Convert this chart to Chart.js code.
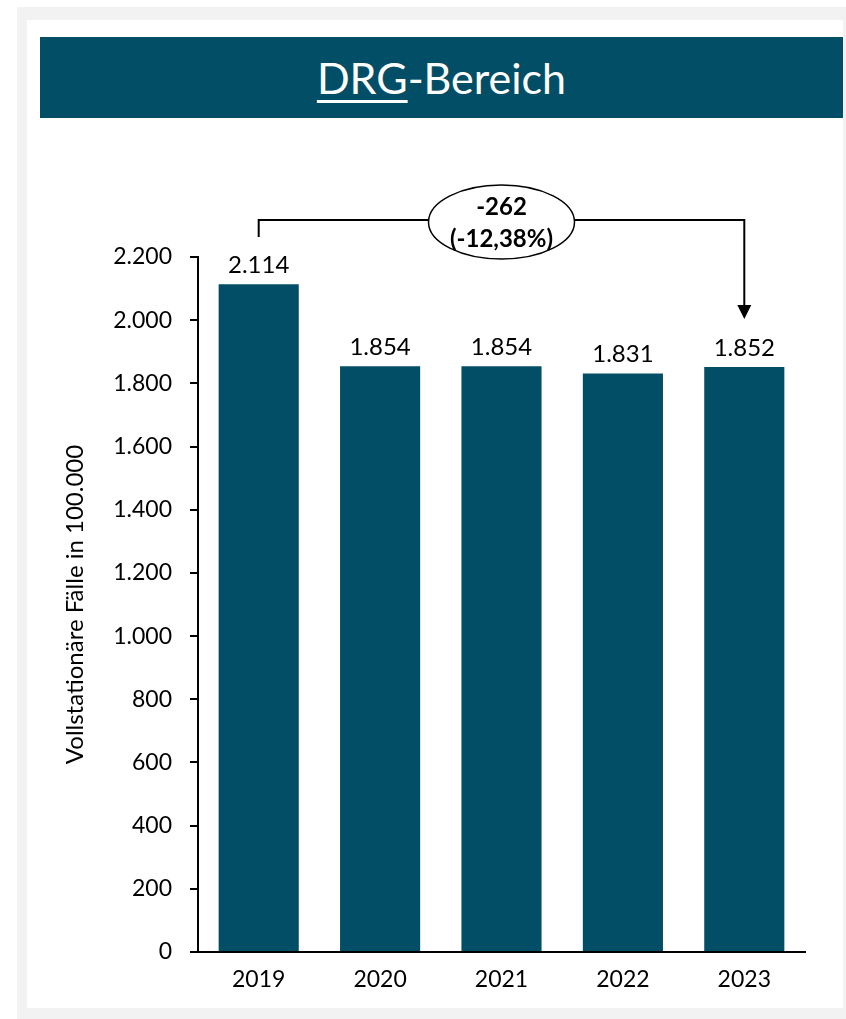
<!DOCTYPE html>
<html>
<head>
<meta charset="utf-8">
<script src="https://cdn.jsdelivr.net/npm/chart.js@4.4.0/dist/chart.umd.min.js"></script>
<style>
  body { margin: 0; background: #fff; font-family: Lato, "Noto Sans", sans-serif; }
  #frame { position: absolute; left: 17px; top: 7px; width: 829px; height: 1012px; background: #f2f2f2; }
  #panel { position: absolute; left: 27px; top: 20px; width: 816px; height: 988px; background: #fff; }
  #head { position: absolute; left: 40px; top: 37px; width: 803px; height: 81px; background: #024e66;
          color: #fff; font-size: 43px; text-align: center; line-height: 81px; }
  #head u { text-decoration-thickness: 3px; text-underline-offset: 6px; }
  #wrap { position: absolute; left: 27px; top: 130px; width: 816px; height: 880px; }
</style>
</head>
<body>
<div id="frame"></div>
<div id="panel"></div>
<div id="head"><u>DRG</u>-Bereich</div>
<div id="wrap"><canvas id="myChart"></canvas></div>
<script>
var years = ["2019", "2020", "2021", "2022", "2023"];
var cases = [2114, 1854, 1854, 1831, 1852];
var yTicks = [0, 200, 400, 600, 800, 1000, 1200, 1400, 1600, 1800, 2000, 2200];
var diffLabels = ["-262", "(-12,38%)"];
var axisTitle = "Vollstationäre Fälle in 100.000";

function fmt(v){
  return String(v).replace(/\B(?=(\d{3})+(?!\d))/g, ".");
}

// value labels above bars
var valueLabels = {
  id: "valueLabels",
  afterDatasetsDraw: function(chart){
    var ctx = chart.ctx;
    var meta = chart.getDatasetMeta(0);
    ctx.save();
    ctx.font = "24px Lato";
    ctx.fillStyle = "#000";
    ctx.textAlign = "center";
    ctx.textBaseline = "bottom";
    meta.data.forEach(function(bar, i){
      ctx.fillText(fmt(cases[i]), bar.x, bar.y - 7);
    });
    ctx.restore();
  }
};

// bracket + ellipse + arrow from first to last bar
var diffBracket = {
  id: "diffBracket",
  afterDraw: function(chart){
    var ctx = chart.ctx;
    var xs = chart.scales.x, ys = chart.scales.y;
    var x0 = xs.getPixelForValue(0);
    var x1 = xs.getPixelForValue(years.length - 1);
    var top = chart.chartArea.top - 37;
    var cx = (x0 + x1) / 2, cy = top + 2, rx = 73, ry = 37;
    var tipY = ys.getPixelForValue(cases[cases.length - 1]) - 48;
    ctx.save();
    ctx.strokeStyle = "#000";
    ctx.lineWidth = 2;
    ctx.beginPath();
    ctx.moveTo(x0, top + 17);
    ctx.lineTo(x0, top);
    ctx.lineTo(cx - rx, top);
    ctx.moveTo(cx + rx, top);
    ctx.lineTo(x1, top);
    ctx.lineTo(x1, tipY - 12);
    ctx.stroke();
    ctx.beginPath();
    ctx.moveTo(x1 - 7, tipY - 14);
    ctx.lineTo(x1 + 7, tipY - 14);
    ctx.lineTo(x1, tipY);
    ctx.closePath();
    ctx.fillStyle = "#000";
    ctx.fill();
    ctx.beginPath();
    ctx.ellipse(cx, cy, rx, ry, 0, 0, Math.PI * 2);
    ctx.fillStyle = "#fff";
    ctx.fill();
    ctx.lineWidth = 1.5;
    ctx.stroke();
    ctx.fillStyle = "#000";
    ctx.font = "bold 24px Lato";
    ctx.textAlign = "center";
    ctx.textBaseline = "middle";
    ctx.fillText(diffLabels[0], cx, cy - 15);
    ctx.fillText(diffLabels[1], cx, cy + 17);
    ctx.restore();
  }
};

var ctx = document.getElementById("myChart").getContext("2d");
var chart = new Chart(ctx, {
  type: "bar",
  data: {
    labels: years,
    datasets: [{
      data: cases,
      backgroundColor: "#024e66",
      barPercentage: 0.66,
      categoryPercentage: 1
    }]
  },
  options: {
    responsive: true,
    maintainAspectRatio: false,
    animation: false,
    layout: { padding: { top: 127, right: 38, bottom: 8, left: 0 } },
    plugins: { legend: { display: false }, tooltip: { enabled: false } },
    scales: {
      x: {
        grid: { display: true, drawOnChartArea: false, drawTicks: false },
        border: { display: true, color: "#000", width: 2 },
        ticks: { color: "#000", font: { family: "Lato", size: 23 }, padding: 14 },
        afterFit: function(s){ s.height = 50; }
      },
      y: {
        min: 0,
        max: 2200,
        afterBuildTicks: function(s){ s.ticks = yTicks.map(function(v){ return { value: v }; }); },
        grid: { display: true, drawOnChartArea: false, drawTicks: true, tickLength: 8, color: "#000", lineWidth: 2 },
        border: { display: true, color: "#000", width: 2 },
        ticks: {
          color: "#000", font: { family: "Lato", size: 23 }, padding: 18,
          callback: function(v){ return fmt(v); }
        },
        title: {
          display: true, text: axisTitle, color: "#000",
          font: { family: "Lato", size: 24 }, padding: { top: 34, bottom: 0 }
        },
        afterFit: function(s){ s.width = 171; }
      }
    }
  },
  plugins: [valueLabels, diffBracket]
});
</script>
</body>
</html>
